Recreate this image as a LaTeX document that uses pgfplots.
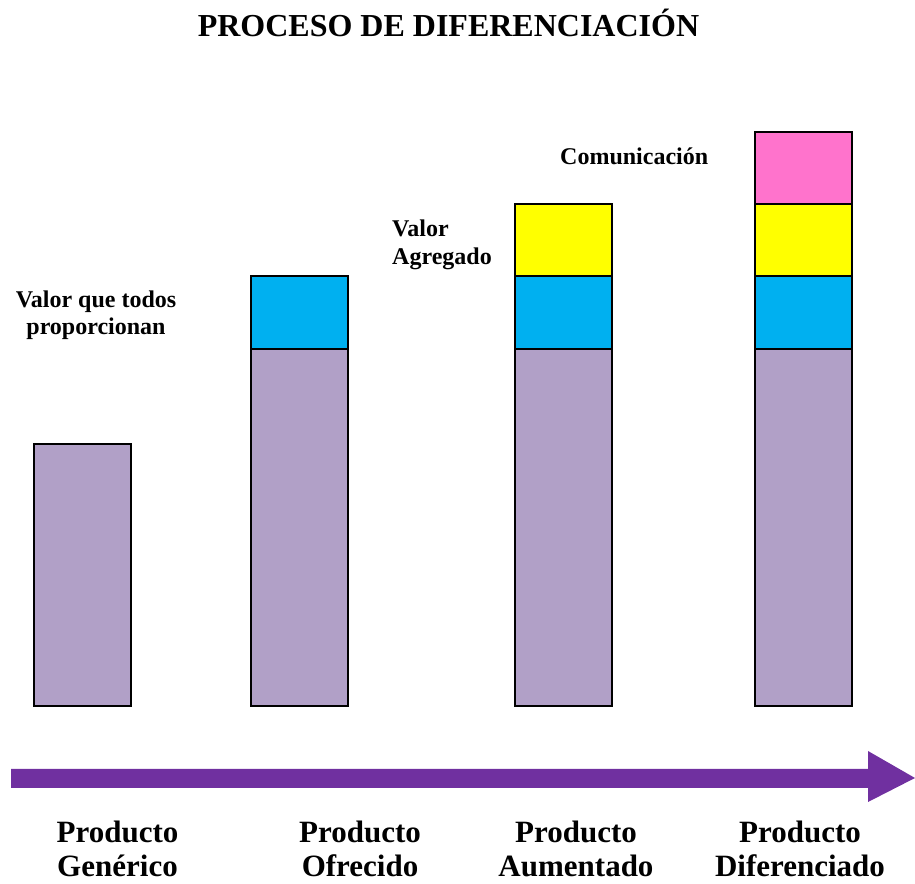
\documentclass[border=0pt]{standalone}
\usepackage{pgfplots}
\pgfplotsset{compat=1.18}
\usepackage{fontspec}
\setmainfont{Liberation Serif}

\definecolor{base}{HTML}{B1A0C7}
\definecolor{azul}{HTML}{00B0F0}
\definecolor{amarillo}{HTML}{FFFF00}
\definecolor{rosa}{HTML}{FF73CC}
\definecolor{flecha}{HTML}{7030A0}

% Heights of each layer for the four products (same vertical units as the axis)
\pgfplotstableread{
x     basico agregado valor comunicacion
82.5  262    0        0     0
299.5 357    73       0     0
563   357    73       72    0
803   357    73       72    72
}\capas

\newcommand{\lbl}[4]{\node[anchor=base,font=\fontsize{#3}{#3}\selectfont\bfseries] at (axis cs:#1,#2) {#4};}
\newcommand{\lbll}[4]{\node[anchor=base west,inner sep=0pt,font=\fontsize{#3}{#3}\selectfont\bfseries] at (axis cs:#1,#2) {#4};}

\begin{document}
\begin{tikzpicture}
\begin{axis}[
  scale only axis,
  width=915pt, height=883pt,
  xmin=0, xmax=915, ymin=-177, ymax=706,
  hide axis, clip=false,
  ybar stacked, bar width=97,
  every axis plot/.append style={draw=black, line width=2pt},
]
\addplot[fill=base]     table[x=x, y=basico]       {\capas};
\addplot[fill=azul]     table[x=x, y=agregado]     {\capas};
\addplot[fill=amarillo] table[x=x, y=valor]        {\capas};
\addplot[fill=rosa]     table[x=x, y=comunicacion] {\capas};

% Title
\lbl{448.5}{669}{32}{PROCESO DE DIFERENCIACIÓN}

% Layer annotations
\lbl{96}{398}{24}{Valor que todos}
\lbl{96}{371}{24}{proporcionan}
\lbll{392}{469}{24}{Valor}
\lbll{392}{441}{24}{Agregado}
\lbll{560}{541}{24}{Comunicación}

% Progress arrow
\fill[flecha] (axis cs:11,-63) -- (axis cs:868,-63) -- (axis cs:868,-45)
  -- (axis cs:915,-72) -- (axis cs:868,-96) -- (axis cs:868,-82)
  -- (axis cs:11,-82) -- cycle;

% Product stages
\lbl{117.5}{-136}{31}{Producto}
\lbl{117.5}{-170}{31}{Genérico}
\lbl{360}{-136}{31}{Producto}
\lbl{360}{-170}{31}{Ofrecido}
\lbl{576}{-136}{31}{Producto}
\lbl{576}{-170}{31}{Aumentado}
\lbl{800}{-136}{31}{Producto}
\lbl{800}{-170}{31}{Diferenciado}

\coordinate (sw) at (axis cs:0,-177);
\coordinate (ne) at (axis cs:915,706);
\end{axis}
% Page frame: the full drawing area
\pgfresetboundingbox
\path (sw) rectangle (ne);
\end{tikzpicture}
\end{document}
